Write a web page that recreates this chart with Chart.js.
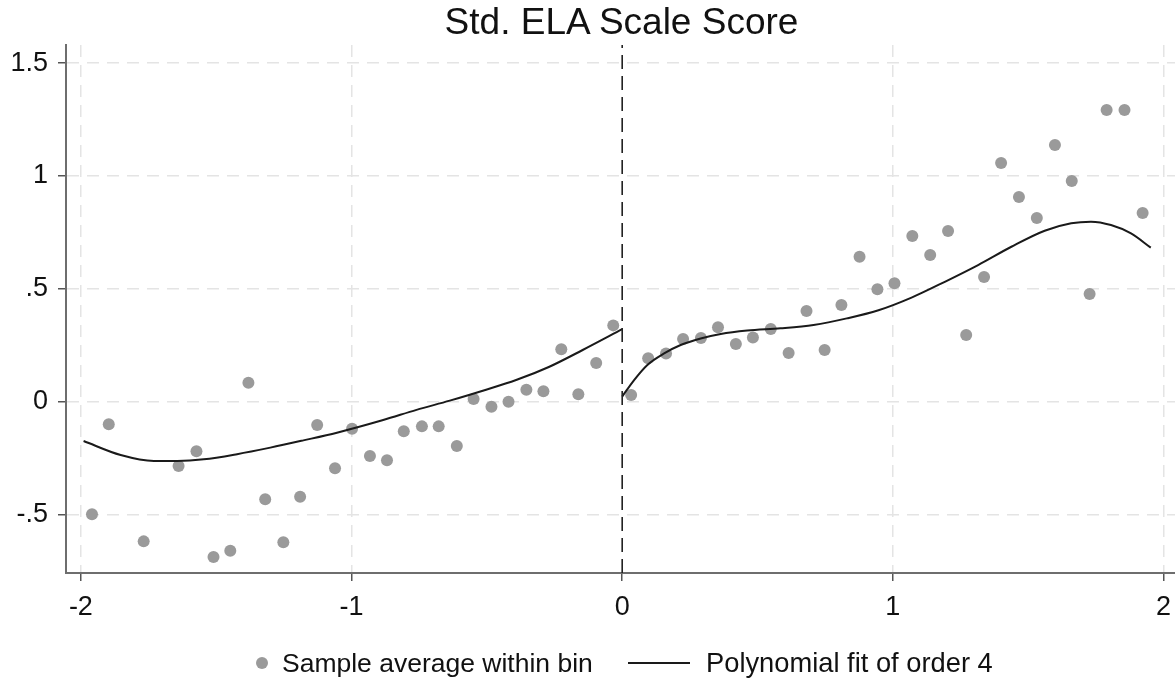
<!DOCTYPE html>
<html lang="en">
<head>
  <meta charset="UTF-8">
  <title>Std. ELA Scale Score</title>
  <style>
    body { margin: 0; background: #fff; overflow: hidden; }
    #wrap { position: relative; width: 1175px; height: 680px; overflow: hidden; font-family: "Liberation Sans", Arial, sans-serif; color: #111; }
    #grafico { position: absolute; left: 0; top: 0; }
    #titulo { position: absolute; top: 2px; left: 0; width: 1243px; text-align: center; font-size: 37px; line-height: 40px; }
    .leg { position: absolute; top: 648px; font-size: 26.5px; line-height: 30px; white-space: nowrap; }
    .ponto { position: absolute; top: 657px; left: 256px; width: 12px; height: 12px; border-radius: 50%; background: #9a9a9a; }
    .linha { position: absolute; top: 662px; left: 628px; width: 62px; height: 2px; background: #1a1a1a; }
  </style>
</head>
<body>
  <div id="wrap">
    <canvas id="grafico" width="1181" height="680"></canvas>
    <div id="titulo">Std. ELA Scale Score</div>
    <span class="ponto"></span>
    <span class="leg" style="left:282px">Sample average within bin</span>
    <span class="linha"></span>
    <span class="leg" style="left:706px; font-size:27.3px">Polynomial fit of order 4</span>
  </div>

<script src="https://cdn.jsdelivr.net/npm/chart.js"></script>
<script>
  // eixos
  const xMin = -2.055, xMax = 2.044;
  const yMin = -0.757, yMax = 1.58;
  const xTicks = [-2, -1, 0, 1, 2];
  const xTickLabels = ['-2', '-1', '0', '1', '2'];
  const yTicks = [-0.5, 0, 0.5, 1, 1.5];
  const yTickLabels = ['-.5', '0', '.5', '1', '1.5'];

  // médias por bin
  const binX = [-1.959, -1.897, -1.768, -1.639, -1.573, -1.510, -1.448, -1.381, -1.319, -1.252,
    -1.190, -1.127, -1.061, -0.998, -0.932, -0.869, -0.807, -0.740, -0.678, -0.611,
    -0.549, -0.483, -0.420, -0.354, -0.291, -0.225, -0.162, -0.096, -0.033,
    0.033, 0.096, 0.162, 0.225, 0.291, 0.354, 0.420, 0.483, 0.549, 0.615,
    0.681, 0.748, 0.810, 0.877, 0.943, 1.006, 1.072, 1.138, 1.204, 1.271,
    1.337, 1.400, 1.466, 1.532, 1.599, 1.661, 1.727, 1.790, 1.856, 1.923];
  const binY = [-0.497, -0.099, -0.617, -0.283, -0.218, -0.686, -0.658, 0.085, -0.431, -0.621,
    -0.420, -0.102, -0.293, -0.119, -0.239, -0.258, -0.130, -0.108, -0.108, -0.195,
    0.013, -0.021, 0.001, 0.054, 0.047, 0.233, 0.034, 0.173, 0.339,
    0.031, 0.193, 0.215, 0.279, 0.283, 0.331, 0.257, 0.285, 0.323, 0.217,
    0.403, 0.230, 0.429, 0.643, 0.499, 0.525, 0.735, 0.650, 0.757, 0.296,
    0.553, 1.058, 0.907, 0.814, 1.137, 0.978, 0.478, 1.292, 1.292, 0.836];

  // ajuste polinomial
  const fitEsqX = [-1.990, -1.853, -1.730, -1.644, -1.546, -1.423, -1.300, -1.178, -1.054,
    -0.883, -0.760, -0.637, -0.515, -0.392, -0.269, -0.146, 0.0];
  const fitEsqY = [-0.173, -0.235, -0.261, -0.261, -0.254, -0.231, -0.202, -0.170, -0.136,
    -0.080, -0.035, 0.006, 0.050, 0.097, 0.156, 0.230, 0.322];
  const fitDirX = [0.0, 0.044, 0.093, 0.155, 0.216, 0.290, 0.364, 0.462, 0.585, 0.707, 0.830,
    0.947, 1.069, 1.192, 1.315, 1.438, 1.561, 1.659, 1.732, 1.806, 1.880, 1.953];
  const fitDirY = [0.024, 0.097, 0.164, 0.215, 0.252, 0.281, 0.301, 0.316, 0.326, 0.341, 0.370,
    0.406, 0.462, 0.532, 0.606, 0.687, 0.758, 0.791, 0.798, 0.783, 0.746, 0.683];

  const pares = (xs, ys) => xs.map((x, i) => ({ x: x, y: ys[i] }));
  const fonte = { family: '"Liberation Sans", Arial, sans-serif', size: 27 };
  const corGrade = '#e4e4e4';

  new Chart(document.getElementById('grafico').getContext('2d'), {
    type: 'scatter',
    data: {
      datasets: [
        {
          label: 'corte',
          type: 'line',
          data: [{ x: 0, y: yMin }, { x: 0, y: yMax }],
          borderColor: '#222',
          borderWidth: 1.6,
          borderDash: [14, 7],
          pointRadius: 0,
          order: 0
        },
        {
          label: 'Polynomial fit of order 4',
          type: 'line',
          data: pares(fitEsqX, fitEsqY),
          borderColor: '#1a1a1a',
          borderWidth: 2,
          pointRadius: 0,
          cubicInterpolationMode: 'monotone',
          order: 1
        },
        {
          label: 'Polynomial fit of order 4 (dir)',
          type: 'line',
          data: pares(fitDirX, fitDirY),
          borderColor: '#1a1a1a',
          borderWidth: 2,
          pointRadius: 0,
          cubicInterpolationMode: 'monotone',
          order: 1
        },
        {
          label: 'Sample average within bin',
          data: pares(binX, binY),
          backgroundColor: '#9a9a9a',
          borderWidth: 0,
          pointRadius: 6,
          order: 2
        }
      ]
    },
    options: {
      responsive: false,
      animation: false,
      layout: { autoPadding: false, padding: { top: 45, right: 0, left: 0, bottom: 0 } },
      plugins: { legend: { display: false }, tooltip: { enabled: false }, title: { display: false } },
      scales: {
        x: {
          type: 'linear',
          min: xMin,
          max: xMax,
          afterBuildTicks: (s) => { s.ticks = xTicks.map(v => ({ value: v })); },
          afterFit: (s) => { s.height = 107; },
          ticks: {
            color: '#111',
            font: fonte,
            padding: 10,
            maxRotation: 0,
            callback: (v) => xTickLabels[xTicks.indexOf(v)]
          },
          grid: {
            color: (c) => (c.tick && c.tick.value === 0) ? 'rgba(0,0,0,0)' : corGrade,
            lineWidth: 1.5,
            tickColor: '#555',
            tickWidth: 1.5,
            tickLength: 8,
            tickBorderDash: []
          },
          border: { color: '#6e6e6e', width: 2, dash: [12, 8] }
        },
        y: {
          type: 'linear',
          min: yMin,
          max: yMax,
          afterBuildTicks: (s) => { s.ticks = yTicks.map(v => ({ value: v })); },
          afterFit: (s) => { s.width = 66; },
          ticks: {
            color: '#111',
            font: fonte,
            padding: 10,
            callback: (v) => yTickLabels[yTicks.indexOf(v)]
          },
          grid: {
            color: corGrade,
            lineWidth: 1.5,
            tickColor: '#555',
            tickWidth: 1.5,
            tickLength: 8,
            tickBorderDash: []
          },
          border: { color: '#6e6e6e', width: 2, dash: [12, 8] }
        }
      }
    }
  });
</script>
</body>
</html>
